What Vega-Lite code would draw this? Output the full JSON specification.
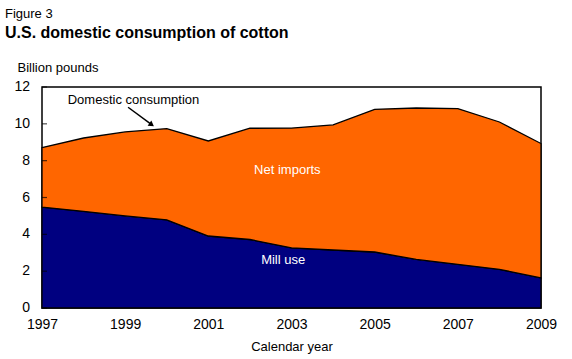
{
  "$schema": "https://vega.github.io/schema/vega-lite/v6.json",
  "width": 499,
  "height": 221,
  "autosize": "none",
  "padding": {"left": 42, "top": 87, "right": 31, "bottom": 51},
  "background": "white",
  "config": {
    "font": "Liberation Sans",
    "view": {"stroke": "black", "strokeWidth": 1.5},
    "axis": {"labelOverlap": false, "grid": false, "domain": false, "labelColor": "black", "titleColor": "black", "labelFontSize": 14, "titleFontSize": 13, "titleFontWeight": "normal"},
    "axisX": {"ticks": false, "labelPadding": 9, "titlePadding": 9, "labelFlush": false},
    "axisY": {"ticks": false, "labels": false, "titleAngle": 0, "titleAlign": "left", "titleBaseline": "alphabetic", "titleX": -25, "titleY": -16}
  },
  "title": {
    "text": "Figure 3",
    "subtitle": "U.S. domestic consumption of cotton",
    "anchor": "start",
    "frame": "group",
    "dx": -37,
    "offset": 20,
    "font": "Liberation Sans",
    "fontSize": 13,
    "fontWeight": "normal",
    "color": "black",
    "subtitleFont": "Liberation Sans",
    "subtitleFontSize": 16,
    "subtitleFontWeight": "bold",
    "subtitleColor": "black",
    "subtitlePadding": 4
  },
  "layer": [
    {
      "data": {
        "values": [
          {"year": 1997, "series": "Mill use", "value": 5.48},
          {"year": 1998, "series": "Mill use", "value": 5.25},
          {"year": 1999, "series": "Mill use", "value": 5.0},
          {"year": 2000, "series": "Mill use", "value": 4.79},
          {"year": 2001, "series": "Mill use", "value": 3.91},
          {"year": 2002, "series": "Mill use", "value": 3.72},
          {"year": 2003, "series": "Mill use", "value": 3.27},
          {"year": 2004, "series": "Mill use", "value": 3.15},
          {"year": 2005, "series": "Mill use", "value": 3.04},
          {"year": 2006, "series": "Mill use", "value": 2.64},
          {"year": 2007, "series": "Mill use", "value": 2.37},
          {"year": 2008, "series": "Mill use", "value": 2.1},
          {"year": 2009, "series": "Mill use", "value": 1.63},
          {"year": 1997, "series": "Net imports", "value": 3.23},
          {"year": 1998, "series": "Net imports", "value": 3.98},
          {"year": 1999, "series": "Net imports", "value": 4.56},
          {"year": 2000, "series": "Net imports", "value": 4.95},
          {"year": 2001, "series": "Net imports", "value": 5.16},
          {"year": 2002, "series": "Net imports", "value": 6.04},
          {"year": 2003, "series": "Net imports", "value": 6.5},
          {"year": 2004, "series": "Net imports", "value": 6.79},
          {"year": 2005, "series": "Net imports", "value": 7.75},
          {"year": 2006, "series": "Net imports", "value": 8.22},
          {"year": 2007, "series": "Net imports", "value": 8.46},
          {"year": 2008, "series": "Net imports", "value": 8.0},
          {"year": 2009, "series": "Net imports", "value": 7.3}
        ]
      },
      "mark": {"type": "area", "stroke": "black", "strokeWidth": 1.3, "fillOpacity": 1},
      "encoding": {
        "x": {
          "field": "year",
          "type": "quantitative",
          "scale": {"domain": [1997, 2009], "nice": false, "zero": false},
          "axis": {
            "values": [1997, 1999, 2001, 2003, 2005, 2007, 2009],
            "format": "d",
            "title": "Calendar year"
          }
        },
        "y": {
          "field": "value",
          "type": "quantitative",
          "stack": "zero",
          "scale": {"domain": [0, 12], "nice": false},
          "axis": {
            "values": [0, 2, 4, 6, 8, 10, 12],
            "title": "Billion pounds"
          }
        },
        "color": {
          "field": "series",
          "type": "nominal",
          "scale": {"domain": ["Mill use", "Net imports"], "range": ["#000080", "#FF6600"]},
          "legend": null
        },
        "order": {"field": "series", "sort": "ascending"}
      }
    },
    {
      "data": {
        "values": [
          {"year": 1999.2, "value": 11.3, "label": "Domestic consumption", "color": "black"},
          {"year": 2002.9, "value": 7.5, "label": "Net imports", "color": "white"},
          {"year": 2002.8, "value": 2.6, "label": "Mill use", "color": "white"}
        ]
      },
      "mark": {"type": "text", "fontSize": 13, "font": "Liberation Sans", "align": "center", "baseline": "middle"},
      "encoding": {
        "x": {"field": "year", "type": "quantitative"},
        "y": {"field": "value", "type": "quantitative"},
        "text": {"field": "label"},
        "color": {"field": "color", "type": "nominal", "scale": null}
      }
    },
    {
      "data": {"values": [{"tick": 0}, {"tick": 2}, {"tick": 4}, {"tick": 6}, {"tick": 8}, {"tick": 10}, {"tick": 12}]},
      "layer": [
        {
          "mark": {"type": "tick", "orient": "horizontal", "color": "black", "size": 5, "thickness": 1.2, "xOffset": 2.5},
          "encoding": {
            "x": {"datum": 1997, "type": "quantitative"},
            "y": {"field": "tick", "type": "quantitative"}
          }
        },
        {
          "mark": {"type": "text", "fontSize": 14, "font": "Liberation Sans", "align": "right", "baseline": "middle", "dx": -12, "color": "black"},
          "encoding": {
            "x": {"datum": 1997, "type": "quantitative"},
            "y": {"field": "tick", "type": "quantitative"},
            "text": {"field": "tick", "type": "quantitative"}
          }
        }
      ]
    },
    {
      "data": {"values": [{"x1": 1999.07, "y1": 10.9, "x2": 1999.62, "y2": 9.98}]},
      "mark": {"type": "rule", "color": "black", "strokeWidth": 1.5},
      "encoding": {
        "x": {"field": "x1", "type": "quantitative"},
        "y": {"field": "y1", "type": "quantitative"},
        "x2": {"field": "x2"},
        "y2": {"field": "y2"}
      }
    },
    {
      "data": {"values": [{"x": 1999.62, "y": 9.98}]},
      "mark": {"type": "point", "shape": "triangle", "filled": true, "color": "black", "size": 40, "angle": 126, "opacity": 1},
      "encoding": {
        "x": {"field": "x", "type": "quantitative"},
        "y": {"field": "y", "type": "quantitative"}
      }
    }
  ]
}
